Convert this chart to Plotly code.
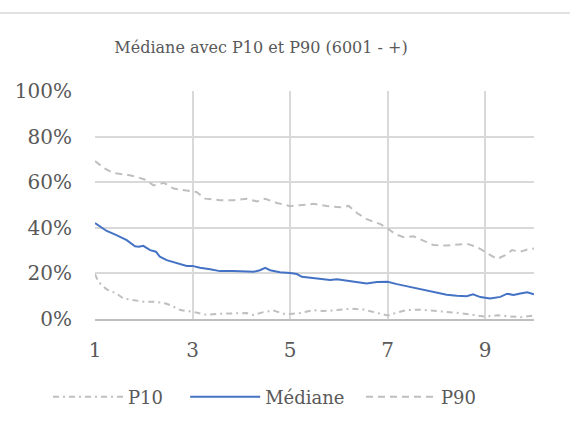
import plotly.graph_objects as go

title_text = "Médiane avec P10 et P90 (6001 - +)"
NB = "\u00a0"
series_names = ["P10", "Médiane", "P90"]

med_x = [1.0, 1.24, 1.44, 1.65, 1.82, 1.9, 1.99, 2.13, 2.25, 2.33, 2.47, 2.68, 2.88, 3.0, 3.15, 3.36, 3.56, 3.84, 4.11, 4.25, 4.38, 4.49, 4.59, 4.79,
         5.0, 5.14, 5.24, 5.48, 5.68, 5.82, 5.96, 6.16, 6.37, 6.57, 6.78, 7.0, 7.19, 7.39, 7.6, 7.8, 8.01, 8.21, 8.42, 8.62, 8.75,
         8.9, 9.1, 9.31, 9.45, 9.58, 9.72, 9.86, 10.0]
med_y = [42.1, 38.6, 36.8, 34.6, 31.9, 31.7, 32.1, 30.2, 29.5, 27.3, 25.8, 24.4, 23.3, 23.3, 22.5, 21.8, 21.0, 21.1, 20.8, 20.7, 21.4, 22.4, 21.4, 20.5,
         20.2, 19.7, 18.5, 18.0, 17.4, 17.1, 17.4, 16.8, 16.3, 15.6, 16.2, 16.3, 15.3, 14.4, 13.4, 12.7, 11.5, 10.6, 10.2, 10.0, 10.8,
         9.6, 9.0, 9.7, 11.1, 10.5, 11.2, 11.7, 10.8]

p90_x = [1.0, 1.17, 1.38, 1.65, 1.86, 2.03, 2.2, 2.41, 2.61, 2.88, 3.08, 3.26, 3.43, 3.56, 3.84, 4.11, 4.32, 4.49, 4.73,
         5.0, 5.2, 5.48, 5.75, 6.03, 6.2, 6.37, 6.57, 6.85, 7.0, 7.16, 7.33, 7.53, 7.74, 7.94, 8.21, 8.42, 8.62, 8.83,
         9.0, 9.24, 9.41, 9.55, 9.72, 9.86, 10.0]
p90_y = [69.3, 66.4, 64.0, 63.3, 62.3, 61.1, 58.6, 59.7, 57.2, 56.5, 55.7, 52.8, 52.4, 52.1, 52.1, 52.7, 51.6, 52.7, 50.9,
         49.5, 49.9, 50.5, 49.6, 49.0, 49.6, 46.5, 43.8, 41.6, 39.7, 37.2, 35.9, 36.3, 34.3, 32.4, 32.2, 32.5, 33.0, 31.6,
         29.5, 26.3, 28.0, 30.2, 29.5, 30.5, 30.9]

p10_x = [1.0, 1.07, 1.24, 1.44, 1.58, 1.79, 1.99, 2.2, 2.41, 2.54, 2.75, 3.0, 3.29, 3.56, 3.84, 4.11, 4.25, 4.45, 4.66, 4.86,
         5.0, 5.2, 5.48, 5.68, 5.96, 6.23, 6.5, 6.71, 7.0, 7.19, 7.39, 7.67, 7.94, 8.21, 8.49, 8.76,
         9.0, 9.24, 9.51, 9.72, 10.0]
p10_y = [19.7, 16.3, 13.0, 11.2, 9.0, 8.4, 7.6, 7.6, 7.1, 6.1, 3.9, 3.2, 1.8, 2.3, 2.6, 2.6, 1.8, 3.0, 3.7, 2.3,
         2.2, 2.6, 3.9, 3.5, 3.9, 4.5, 4.2, 3.2, 1.5, 2.8, 3.9, 4.1, 3.7, 3.2, 2.6, 1.8,
         1.0, 1.6, 1.3, 0.8, 1.5]

x_ticks = [1, 3, 5, 7, 9]

FONT = "DejaVu Serif"
GRAY_TXT = "#595959"
GRID = "#D9D9D9"

fig = go.Figure()
fig.add_trace(go.Scatter(x=p10_x, y=[v / 100 for v in p10_y], name=series_names[0] + NB * 3, mode="lines",
                         line=dict(color="#BFBFBF", width=2, dash="6px,4px,2px,4px")))
fig.add_trace(go.Scatter(x=med_x, y=[v / 100 for v in med_y], name=series_names[1] + NB * 2, mode="lines",
                         line=dict(color="#4472C4", width=2)))
fig.add_trace(go.Scatter(x=p90_x, y=[v / 100 for v in p90_y], name=series_names[2], mode="lines",
                         line=dict(color="#BFBFBF", width=2, dash="7px,5px")))

fig.update_layout(
    width=570, height=430,
    margin=dict(l=95, r=36, t=91, b=111),
    paper_bgcolor="white", plot_bgcolor="white",
    font=dict(family=FONT, color=GRAY_TXT),
    title=dict(text=title_text, x=261 / 570, xanchor="center", y=1 - 47 / 430, yanchor="middle",
               font=dict(family=FONT, size=16, color=GRAY_TXT)),
    xaxis=dict(range=[1, 10], tickvals=x_ticks, showgrid=True, gridcolor=GRID, gridwidth=1.5,
               zeroline=False, showline=True, linecolor="#BFBFBF", linewidth=1.5,
               ticks="", ticklabelstandoff=12, tickfont=dict(family=FONT, size=20, color=GRAY_TXT)),
    yaxis=dict(range=[0, 1], dtick=0.2, tickformat=".0%", showgrid=True, gridcolor=GRID, gridwidth=1.5,
               zeroline=False, showline=False, ticks="", ticklabelstandoff=22,
               tickfont=dict(family=FONT, size=20, color=GRAY_TXT)),
    legend=dict(orientation="h", x=(48 - 95) / 439, xanchor="left", y=(319 - 397) / 228, yanchor="middle",
                font=dict(family=FONT, size=18, color=GRAY_TXT), itemwidth=70),
    showlegend=True,
)
fig.add_shape(type="line", xref="paper", yref="paper", x0=-95 / 439, x1=475 / 439,
              y0=(319 - 13) / 228, y1=(319 - 13) / 228, line=dict(color=GRID, width=1.5))

fig.write_html("out.html")
